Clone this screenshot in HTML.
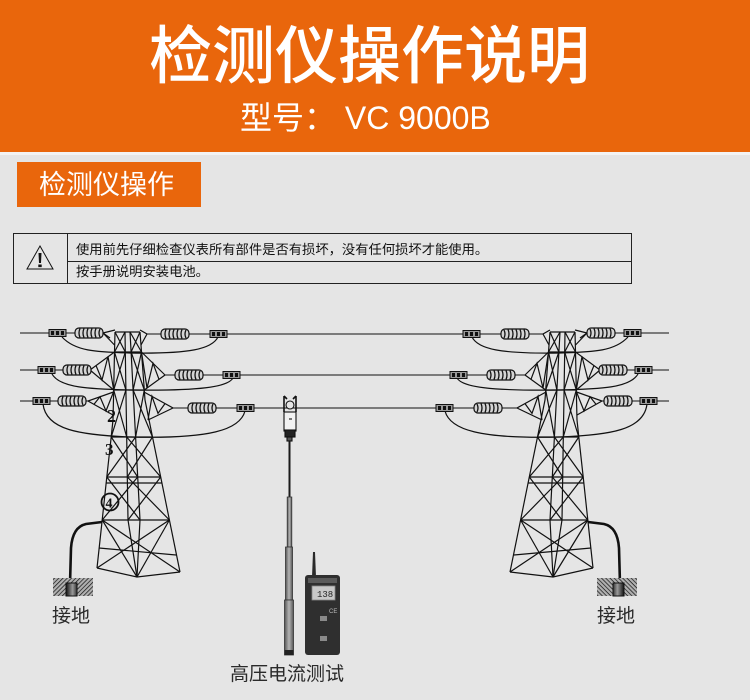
<!DOCTYPE html>
<html><head><meta charset="utf-8">
<style>
html,body{margin:0;padding:0;}
body{width:750px;height:700px;background:#e5e5e5;position:relative;overflow:hidden;font-family:"Liberation Sans","Noto Sans CJK SC",sans-serif;}
.hdr{position:absolute;left:0;top:0;width:750px;height:152px;background:#e9660c;}
.hl{position:absolute;left:0;top:152px;width:750px;height:3px;background:#f3f3f3;}
.t1{position:absolute;left:149px;top:20px;font-family:"Noto Sans CJK SC",sans-serif;font-weight:500;font-size:63px;line-height:63px;color:#fff;white-space:nowrap;}
.t2{position:absolute;left:240px;top:102px;font-family:"Liberation Sans","Noto Sans CJK SC",sans-serif;font-size:32px;line-height:32px;color:#fff;white-space:nowrap;}
.sec{position:absolute;left:17px;top:162px;width:184px;height:45px;background:#e9660c;}
.sect{position:absolute;left:39px;top:169px;font-family:"Noto Sans CJK SC",sans-serif;font-size:27px;line-height:27px;color:#fff;white-space:nowrap;}
.tt{position:absolute;font-family:"Noto Sans CJK SC",sans-serif;font-size:13.3px;line-height:14px;color:#111;white-space:nowrap;}
.lb{position:absolute;font-family:"Noto Sans CJK SC",sans-serif;font-size:19px;line-height:19px;color:#2a2a2a;white-space:nowrap;}
svg{position:absolute;left:0;top:0;}
</style></head><body>
<div class="hdr"></div>
<div class="hl"></div>
<div class="t1">检测仪操作说明</div>
<div class="t2">型号： VC 9000B</div>
<div class="sec"></div>
<div class="sect">检测仪操作</div>

<svg width="750" height="700" viewBox="0 0 750 700" xmlns="http://www.w3.org/2000/svg">
<defs>
  <pattern id="hatch" width="3" height="3" patternUnits="userSpaceOnUse" patternTransform="rotate(45)">
    <rect width="3" height="3" fill="#b0b0b0"/>
    <line x1="0" y1="0" x2="0" y2="3" stroke="#111" stroke-width="1.4"/>
  </pattern>
  <linearGradient id="cyl" x1="0" y1="0" x2="1" y2="0">
    <stop offset="0" stop-color="#111"/>
    <stop offset="0.6" stop-color="#9a9a9a"/>
    <stop offset="1" stop-color="#333"/>
  </linearGradient>
  <linearGradient id="tube" x1="0" y1="0" x2="1" y2="0">
    <stop offset="0" stop-color="#555"/>
    <stop offset="0.5" stop-color="#b5b5b5"/>
    <stop offset="1" stop-color="#555"/>
  </linearGradient>
  <g id="ins">
    <rect x="0" y="-5" width="28" height="10" rx="4" fill="#d4d4d4" stroke="#111" stroke-width="1.2"/>
    <path d="M5,-4.5 Q3,0 5,4.5 M9,-4.5 Q7,0 9,4.5 M13,-4.5 Q11,0 13,4.5 M17,-4.5 Q15,0 17,4.5 M21,-4.5 Q19,0 21,4.5 M25,-4 Q23,0 25,4" fill="none" stroke="#111" stroke-width="1.3"/>
  </g>
  <g id="bx">
    <rect x="0" y="-3.5" width="17" height="7" fill="#9a9a9a" stroke="#111"/>
    <rect x="2" y="-2" width="3" height="4" fill="#111"/>
    <rect x="7" y="-2" width="3" height="4" fill="#111"/>
    <rect x="12" y="-2" width="3" height="4" fill="#111"/>
  </g>
  <g id="tw">
    <g fill="none" stroke="#111" stroke-width="1.2">
      <polyline points="115,332 114.5,352 113.7,390 113,420 111.2,437 106.8,477 102.2,520 97,568"/>
      <polyline points="140,332 141.5,352 144.3,390 145,400 152.5,437 160.7,477 169.4,520 180,572"/>
      <polyline points="125,332 125.3,352 125.9,390 126.7,437 127.3,477 128,520 137,577"/>
      <polyline points="130,332 131.1,352 133.1,390 135.6,437 137.7,477 140,520 137,577"/>
      <polyline points="97,568 137,577 180,572"/>
      <line x1="115" y1="332" x2="140" y2="332"/>
      <line x1="114.5" y1="352" x2="141.5" y2="352"/>
      <line x1="113.7" y1="390" x2="144.3" y2="390"/>
      <line x1="111.2" y1="437" x2="152.5" y2="437"/>
      <line x1="106.8" y1="477" x2="160.7" y2="477"/>
      <line x1="106" y1="483" x2="162" y2="483"/>
      <line x1="102.2" y1="520" x2="169.4" y2="520"/>
      <line x1="115" y1="332" x2="125.3" y2="352"/><line x1="125" y1="332" x2="114.5" y2="352"/>
      <line x1="130" y1="332" x2="141.5" y2="352"/><line x1="140" y1="332" x2="131.1" y2="352"/>
      <line x1="114.5" y1="352" x2="125.9" y2="390"/><line x1="125.3" y1="352" x2="113.7" y2="390"/>
      <line x1="131.1" y1="352" x2="144.3" y2="390"/><line x1="141.5" y1="352" x2="133.1" y2="390"/>
      <line x1="113.7" y1="390" x2="126.7" y2="437"/><line x1="125.9" y1="390" x2="111.2" y2="437"/>
      <line x1="133.1" y1="390" x2="152.5" y2="437"/><line x1="144.3" y1="390" x2="135.6" y2="437"/>
      <line x1="111.2" y1="437" x2="137.7" y2="477"/><line x1="135.6" y1="437" x2="106.8" y2="477"/>
      <line x1="126.7" y1="437" x2="160.7" y2="477"/><line x1="152.5" y1="437" x2="127.3" y2="477"/>
      <line x1="106.8" y1="477" x2="140" y2="520"/><line x1="137.7" y1="477" x2="102.2" y2="520"/>
      <line x1="127.3" y1="477" x2="169.4" y2="520"/><line x1="160.7" y1="477" x2="128" y2="520"/>
      <line x1="102.2" y1="520" x2="180" y2="572"/><line x1="169.4" y1="520" x2="97" y2="568"/>
      <line x1="102.2" y1="520" x2="137" y2="577"/><line x1="169.4" y1="520" x2="137" y2="577"/>
      <line x1="99" y1="548" x2="176" y2="555"/>
      <polyline points="115,330 103,333 114.5,345"/>
      <line x1="103" y1="333" x2="110" y2="338"/>
      <polyline points="140,330 147,334 141,345"/>
      <polyline points="114.5,352 90,370 113.7,390"/>
      <polyline points="96,365.5 102,380 108,356.5 113.7,390"/>
      <polyline points="141.5,352 165,375 144.3,390"/>
      <polyline points="141.5,352 147,388 153,363.3 159,379.3"/>
      <polyline points="113.5,392 88,401 113,415"/>
      <polyline points="94,404.3 100,396.8 106,410.9 113.5,392"/>
      <polyline points="144,392 173,408 148,420"/>
      <polyline points="148,420 152,396.4 158,413.3 165,403.6"/>
      <path d="M62,337 C75,351 95,352 130,353 C190,354 212,349 218,337"/>
      <path d="M52,374 C60,388 90,389 130,390 C200,391 228,387 233,378"/>
      <path d="M43,404 C46,430 80,435 130,437 C210,439 240,430 245,411"/>
    </g>
    <use href="#bx" x="49" y="333"/><use href="#ins" x="75" y="333"/>
    <use href="#ins" x="161" y="334"/><use href="#bx" x="210" y="334"/>
    <use href="#bx" x="38" y="370"/><use href="#ins" x="63" y="370"/>
    <use href="#ins" x="175" y="375"/><use href="#bx" x="223" y="375"/>
    <use href="#bx" x="33" y="401"/><use href="#ins" x="58" y="401"/>
    <use href="#ins" x="188" y="408"/><use href="#bx" x="237" y="408"/>
    <path d="M102,522 L86,524 C77,526 72,534 71,548 L70,584" fill="none" stroke="#111" stroke-width="2.6"/>
    <rect x="53" y="578" width="40" height="18" fill="url(#hatch)"/>
    <rect x="66" y="583" width="11" height="13" fill="url(#cyl)" stroke="#111" stroke-width="1"/>
  </g>
</defs>

<g fill="none" stroke="#222" stroke-width="1">
  <rect x="13.5" y="233.5" width="618" height="50"/>
  <line x1="67.5" y1="233.5" x2="67.5" y2="283.5"/>
  <line x1="67.5" y1="261.5" x2="631.5" y2="261.5"/>
  <path d="M40,246 L53,269 L27,269 Z" stroke="#111"/>
</g>
<path d="M38.5,253 h3 l-0.5,10 h-2 z M38.3,264.5 h3.4 v2.6 h-3.4 z" fill="#111"/>

<g fill="none" stroke="#111" stroke-width="1.1">
  <path d="M20,333 H103 M147,334 L543,334 M587,333 H669"/>
  <path d="M20,370 H90 M165,375 L525,375 M600,370 H669"/>
  <path d="M20,401 H88 M173,408 L517,408 M602,401 H669"/>
</g>

<use href="#tw"/>
<use href="#tw" transform="translate(690,0) scale(-1,1)"/>

<g font-family="Liberation Serif, serif" fill="#111">
  <text x="107" y="422" font-size="18" font-weight="bold">2</text>
  <text x="105" y="455" font-size="17" font-weight="bold">3</text>
  <circle cx="110" cy="502" r="8.5" fill="none" stroke="#111" stroke-width="1.8"/>
  <text x="105.5" y="507.5" font-size="14" font-weight="bold">4</text>
</g>

<g stroke="#111" stroke-width="1.1">
  <path d="M284,396 L284,412 M296,396 L296,412 M284,396 L287,399 M296,396 L293,399" fill="none" stroke-width="1.6"/>
  <circle cx="290" cy="405" r="4" fill="#e5e5e5"/>
  <rect x="284" y="412" width="12" height="19" fill="#f2f2f2"/>
  <line x1="289" y1="419" x2="292" y2="419"/>
  <rect x="285" y="430" width="10" height="7" fill="#222"/>
  <rect x="287" y="437" width="5" height="4" fill="#555"/>
</g>
<line x1="289.5" y1="441" x2="289.5" y2="497" stroke="#1a1a1a" stroke-width="2"/>
<rect x="287.2" y="497" width="4.6" height="50" fill="url(#tube)" stroke="#333" stroke-width="0.8"/>
<rect x="285.5" y="547" width="7" height="53" fill="url(#tube)" stroke="#333" stroke-width="0.8"/>
<rect x="284.5" y="600" width="9" height="55" fill="url(#tube)" stroke="#333" stroke-width="0.8"/>
<rect x="284.5" y="650" width="9" height="5" fill="#222"/>

<path d="M312,577 L313,552 L315,552 L316,577 Z" fill="#2a2a2a"/>
<rect x="305" y="575" width="35" height="80" rx="3" fill="#2f2f2f"/>
<rect x="308" y="578" width="29" height="5" fill="#5a5a5a"/>
<rect x="312" y="586" width="23" height="14" fill="#c8c8c8" stroke="#888" stroke-width="0.8"/>
<text x="317" y="597" font-family="Liberation Mono, monospace" font-size="9" fill="#222">138</text>
<text x="329" y="613" font-family="Liberation Sans, sans-serif" font-size="6" fill="#bbb">CE</text>
<rect x="320" y="616" width="7" height="5" fill="#8a8a8a"/>
<rect x="320" y="636" width="7" height="5" fill="#8a8a8a"/>
</svg>

<div class="tt" style="left:76px;top:242px;">使用前先仔细检查仪表所有部件是否有损坏，没有任何损坏才能使用。</div>
<div class="tt" style="left:76px;top:264px;">按手册说明安装电池。</div>

<div class="lb" style="left:52px;top:605px;">接地</div>
<div class="lb" style="left:597px;top:605px;">接地</div>
<div class="lb" style="left:230px;top:663px;">高压电流测试</div>
</body></html>
